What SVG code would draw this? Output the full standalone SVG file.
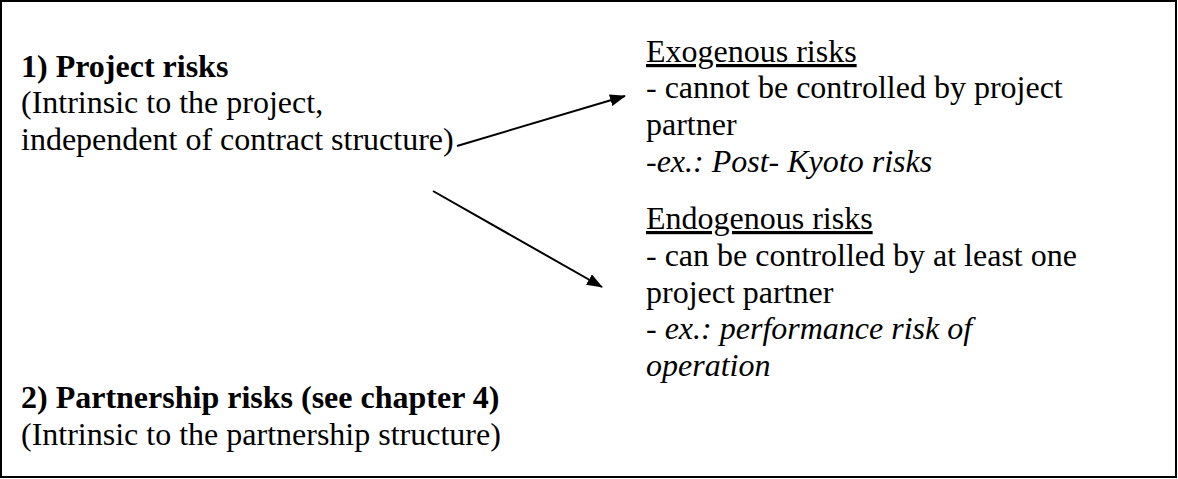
<svg xmlns="http://www.w3.org/2000/svg" width="1178" height="479" viewBox="0 0 1178 479">
<style>
.t{font-family:"Liberation Serif","Times New Roman",serif;font-size:32px;fill:#000}
.b{font-weight:bold}
.i{font-style:italic}
.u{text-decoration:underline}
.c{stroke:#000;stroke-width:2;fill:none}
</style>
<defs>
<marker id="ah" markerWidth="16" markerHeight="12" refX="15" refY="6" orient="auto" markerUnits="userSpaceOnUse" viewBox="0 0 16 12">
<path d="M0,0 L16,6 L0,12 z" fill="#000"/>
</marker>
</defs>
<rect x="1" y="1" width="1175" height="476" fill="#fff" stroke="#000" stroke-width="2"/>
<g id="project-risks">
<text class="t b" x="21" y="77">1) Project risks</text>
<text class="t" x="21" y="113">(Intrinsic to the project,</text>
<text class="t" x="21" y="150">independent of contract structure)</text>
</g>
<g id="exogenous">
<text class="t u" x="646" y="62">Exogenous risks</text>
<text class="t" x="646" y="98">- cannot be controlled by project</text>
<text class="t" x="646" y="135">partner</text>
<text class="t i" x="646" y="172">-ex.: Post- Kyoto risks</text>
</g>
<g id="endogenous">
<text class="t u" x="646" y="229">Endogenous risks</text>
<text class="t" x="646" y="266">- can be controlled by at least one</text>
<text class="t" x="646" y="303">project partner</text>
<text class="t" x="646" y="339">- <tspan class="i">ex.: performance risk of</tspan></text>
<text class="t i" x="646" y="376">operation</text>
</g>
<g id="partnership-risks">
<text class="t b" x="21" y="408">2) Partnership risks (see chapter 4)</text>
<text class="t" x="21" y="445">(Intrinsic to the partnership structure)</text>
</g>
<g id="connectors">
<line class="c" x1="457" y1="146" x2="625" y2="96" marker-end="url(#ah)"/>
<line class="c" x1="433" y1="191" x2="602" y2="287" marker-end="url(#ah)"/>
</g>
</svg>
